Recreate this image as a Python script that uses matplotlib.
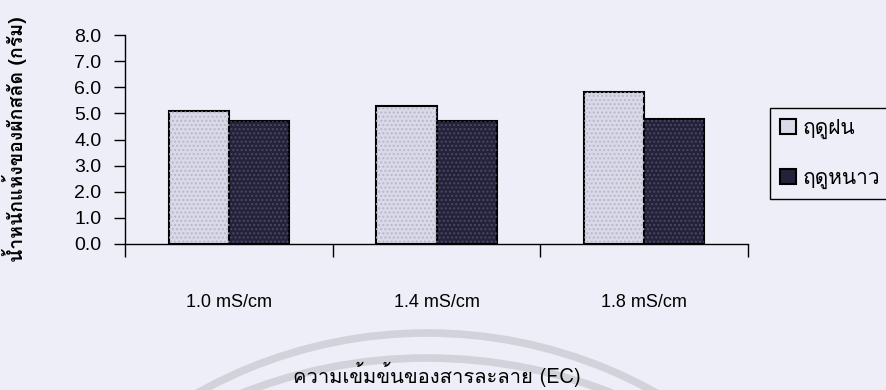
import matplotlib
matplotlib.use("Agg")
import matplotlib.pyplot as plt
from matplotlib import font_manager
from matplotlib.ft2font import FT2Font
from matplotlib.patches import Arc
import numpy as np

# --- data ---------------------------------------------------------------
categories = ["1.0 mS/cm", "1.4 mS/cm", "1.8 mS/cm"]
rainy = [5.1, 5.3, 5.8]    # ฤดูฝน
winter = [4.7, 4.7, 4.8]   # ฤดูหนาว
series_names = ["ฤดูฝน", "ฤดูหนาว"]
y_ticks = [0, 1, 2, 3, 4, 5, 6, 7, 8]

x_title = "ความเข้มข้นของสารละลาย (EC)"
y_title = "น้ำหนักแห้งของผักสลัด (กรัม)"


def thai_font():
    # first installed family that actually has Thai glyphs
    for f in font_manager.fontManager.ttflist:
        try:
            if 0x0E01 in FT2Font(f.fname).get_charmap():
                return f.name
        except Exception:
            pass
    return "DejaVu Sans"


THAI = thai_font()
plt.rcParams["font.family"] = ["Liberation Sans", THAI, "DejaVu Sans"]

BG = "#eeeef8"
LIGHT = "#d9d9e8"
DARK = "#24223a"

W, H = 886, 390
fig = plt.figure(figsize=(W / 100, H / 100), dpi=100, facecolor=BG)
ax = fig.add_axes([125 / W, 146 / H, 623 / W, 209 / H], facecolor=BG)

x = np.arange(len(categories))
bw = 0.29
ax.bar(x - bw / 2, rainy, bw, color=LIGHT, edgecolor="black", linewidth=1.5,
       label=series_names[0], zorder=2)
ax.bar(x + bw / 2, winter, bw, color=DARK, edgecolor="black", linewidth=1.5,
       label=series_names[1], zorder=2)
# fine texture like the scanned fill
ax.bar(x - bw / 2, rainy, bw, color="none", edgecolor="#b8b8cc", linewidth=0,
       hatch="....", zorder=3)
ax.bar(x + bw / 2, winter, bw, color="none", edgecolor="#4a4862", linewidth=0,
       hatch="....", zorder=3)

ax.set_xlim(-0.5, len(categories) - 0.5)
ax.set_ylim(0, 8)

for s in ["top", "right"]:
    ax.spines[s].set_visible(False)
ax.spines["left"].set_linewidth(1)
ax.spines["bottom"].set_linewidth(1)

ax.set_yticks(y_ticks)
ax.set_yticklabels([f"{v:.1f}" for v in y_ticks], fontsize=14)
ax.tick_params(axis="y", direction="out", length=8, width=1, pad=9)

# boundary ticks below the axis, labels centred under each group
ax.set_xticks(np.arange(len(categories) + 1) - 0.5)
ax.set_xticklabels([])
ax.tick_params(axis="x", which="major", direction="out", length=9, width=1)
ax.set_xticks(x, minor=True)
ax.set_xticklabels(categories, minor=True, fontsize=13)
ax.tick_params(axis="x", which="minor", length=0, pad=36)

ax.set_xlabel(x_title, fontsize=14.5, family=[THAI, "DejaVu Sans"],
              va="center")
ax.xaxis.set_label_coords(0.5, -0.625)
ax.set_ylabel(y_title, fontsize=14, family=[THAI, "DejaVu Sans"],
              fontweight="bold", va="center")
ax.yaxis.set_label_coords(-0.177, 0.5)

leg = fig.legend(loc="upper left", bbox_to_anchor=(770 / W, 1 - 108 / H),
                 frameon=True, fancybox=False, edgecolor="black",
                 facecolor=BG, framealpha=1,
                 prop={"family": [THAI, "DejaVu Sans"], "size": 15},
                 handlelength=0.75, handleheight=0.75, handletextpad=0.3,
                 labelspacing=1.45, borderpad=0.5, borderaxespad=0)
leg.get_frame().set_linewidth(1)

# watermark rings from the scan
for cx, top, r in [(427, 333, 469), (427, 358, 505)]:
    cy = top + r
    fig.add_artist(Arc((cx / W, 1 - cy / H), 2 * r / W, 2 * r / H,
                       transform=fig.transFigure, color="#d2d2da",
                       linewidth=5.5, zorder=0))

fig.savefig("out.png", dpi=100, facecolor=BG)
